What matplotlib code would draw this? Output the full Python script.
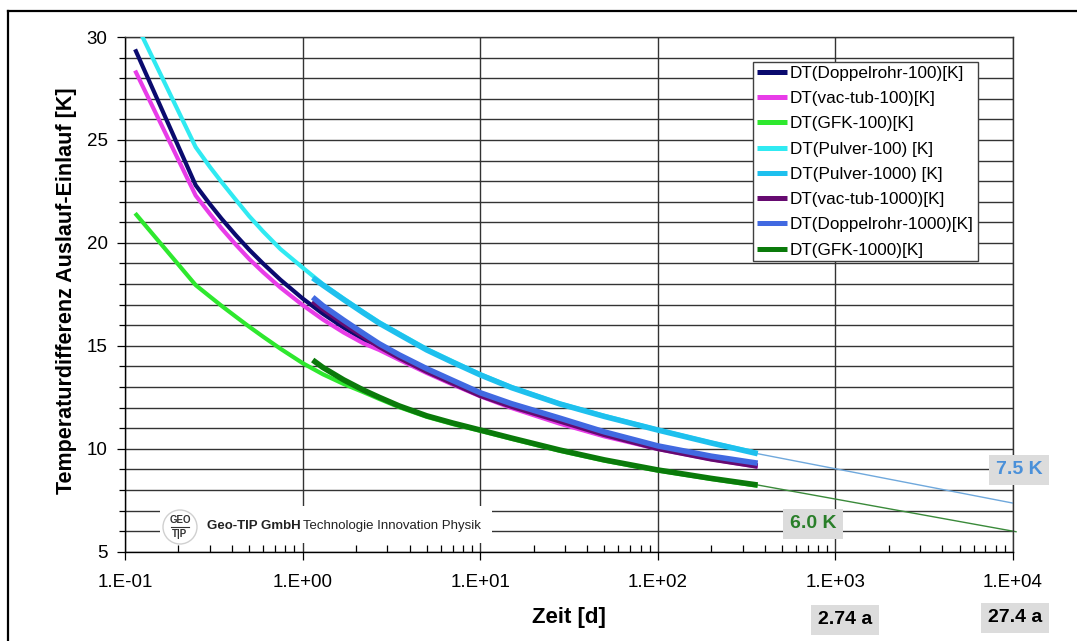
"""
Temperaturdifferenz Auslauf-Einlauf vs. Zeit (log) for several probe types.
"""

import matplotlib
matplotlib.use('Agg')
import matplotlib.pyplot as plt
from matplotlib.ticker import FixedLocator, NullFormatter
from matplotlib.patches import Rectangle, Circle
from matplotlib.lines import Line2D

plt.rcParams['font.family'] = ['Liberation Sans', 'DejaVu Sans']

# Data
T_100 = [0.114, 0.25, 0.3, 0.35, 0.42, 0.5, 0.6, 0.75, 1.0, 1.3, 1.7, 2.2, 2.7,
         3.5, 5, 7, 10, 15, 28, 50, 100, 200, 365]
T_1000 = [1.14, 1.3, 1.7, 2.2, 2.7, 3.5, 5, 7, 10, 15, 28, 50, 100, 200, 365]

doppel_100 = [29.4, 22.8, 21.89, 21.17, 20.38, 19.67, 18.99, 18.21, 17.30, 16.56, 15.89,
              15.31, 14.88, 14.37, 13.72, 13.15, 12.59, 12.03, 11.26, 10.64, 10.04, 9.54, 9.17]
vactub_100 = [28.37, 22.3, 21.42, 20.7, 19.92, 19.22, 18.57, 17.83, 16.98, 16.28, 15.65,
              15.12, 14.8, 14.32, 13.68, 13.12, 12.55, 11.98, 11.22, 10.6, 9.99, 9.49, 9.13]
gfk_100 = [21.44, 17.95, 17.40, 16.94, 16.42, 15.93, 15.44, 14.86, 14.16, 13.62, 13.15,
           12.75, 12.42, 12.02, 11.55, 11.2, 10.87, 10.48, 9.9, 9.42, 8.94, 8.53, 8.2]
pulver_100 = [30.75, 24.65, 23.7, 22.95, 22.1, 21.3, 20.55, 19.7, 18.8, 18.0, 17.3,
              16.65, 16.15, 15.6, 14.85, 14.25, 13.62, 13.0, 12.2, 11.6, 10.93, 10.3, 9.8]

pulver_1000 = [18.3, 17.95, 17.25, 16.6, 16.1, 15.55, 14.8, 14.2, 13.59, 12.97, 12.18,
               11.57, 10.91, 10.28, 9.76]
vactub_1000 = [17.18, 16.8, 16.1, 15.47, 14.98, 14.44, 13.77, 13.2, 12.6, 12.07, 11.36,
               10.7, 10.02, 9.51, 9.16]
doppel_1000 = [17.36, 16.95, 16.25, 15.6, 15.1, 14.56, 13.89, 13.32, 12.72, 12.19, 11.49,
               10.82, 10.14, 9.64, 9.30]
gfk_1000 = [14.31, 13.95, 13.35, 12.85, 12.5, 12.08, 11.6, 11.25, 10.91, 10.52, 9.94,
            9.46, 8.97, 8.56, 8.24]

# thin extrapolation lines to 10^4 days
T_EXT = [365, 1.0e4]
pulver_ext = [9.76, 7.36]
T_EXT_GFK = [365, 1.04e4]
gfk_ext = [8.24, 5.97]

X_TICKS = [0.1, 1, 10, 100, 1000, 10000]
X_TICKLABELS = ['1.E-01', '1.E+00', '1.E+01', '1.E+02', '1.E+03', '1.E+04']
Y_TICKS = [5, 10, 15, 20, 25, 30]

SERIES = [
    ('DT(Doppelrohr-100)[K]', T_100, doppel_100, '#0a0a6e', 3.0),
    ('DT(vac-tub-100)[K]', T_100, vactub_100, '#e83ce8', 3.0),
    ('DT(GFK-100)[K]', T_100, gfk_100, '#2ee82e', 3.0),
    ('DT(Pulver-100) [K]', T_100, pulver_100, '#30eaf2', 3.0),
    ('DT(Pulver-1000) [K]', T_1000, pulver_1000, '#1ec0ee', 4.0),
    ('DT(vac-tub-1000)[K]', T_1000, vactub_1000, '#660a70', 4.0),
    ('DT(Doppelrohr-1000)[K]', T_1000, doppel_1000, '#4169e1', 4.0),
    ('DT(GFK-1000)[K]', T_1000, gfk_1000, '#0a7a0a', 4.0),
]

W, H = 1077, 641
fig = plt.figure(figsize=(W / 100, H / 100), dpi=100)
fig.patch.set_facecolor('white')
ax = fig.add_axes([125 / W, 1 - 551.7 / H, (1013 - 125) / W, (551.7 - 37) / H])

# thin extrapolation lines
ax.plot(T_EXT, pulver_ext, color='#6fa8dc', linewidth=1.0, zorder=2)
ax.plot(T_EXT_GFK, gfk_ext, color='#3a8a3a', linewidth=1.0, zorder=2, clip_on=False)

for label, t, y, color, lw in SERIES:
    ax.plot(t, y, color=color, linewidth=lw, label=label, zorder=3,
            solid_capstyle='butt', solid_joinstyle='round')

ax.set_xscale('log')
ax.set_xlim(0.1, 1e4)
ax.set_ylim(5, 30)

ax.xaxis.set_major_locator(FixedLocator(X_TICKS))
ax.set_xticklabels(X_TICKLABELS)
minor_x = [m * 10.0 ** e for e in range(-1, 4) for m in range(2, 10)]
ax.xaxis.set_minor_locator(FixedLocator(minor_x))
ax.xaxis.set_minor_formatter(NullFormatter())
ax.yaxis.set_major_locator(FixedLocator(Y_TICKS))
ax.yaxis.set_minor_locator(FixedLocator(list(range(5, 31))))

ax.grid(True, which='major', axis='x', color='#333333', linewidth=1.0)
ax.grid(True, which='both', axis='y', color='#333333', linewidth=1.0)

ax.tick_params(axis='x', which='major', direction='out', length=6, width=0.9,
               labelsize=13.5, pad=10, colors='black')
ax.tick_params(axis='x', which='minor', direction='in', length=5, width=0.9)
ax.tick_params(axis='y', which='major', direction='out', length=6, width=0.9,
               labelsize=13.5, pad=6.5)
ax.tick_params(axis='y', which='minor', direction='out', length=4, width=0.9)

for side in ['left', 'bottom']:
    ax.spines[side].set_color('black')
    ax.spines[side].set_linewidth(1.0)
for side in ['top', 'right']:
    ax.spines[side].set_color('#333333')
    ax.spines[side].set_linewidth(1.0)

ax.set_xlabel('Zeit [d]', fontsize=16, fontweight='bold', va='center')
ax.xaxis.set_label_coords(0.5, (551.7 - 618) / 514.7)
ax.set_ylabel('Temperaturdifferenz Auslauf-Einlauf [K]', fontsize=15.5,
              fontweight='bold', va='center')
ax.yaxis.set_label_coords((67 - 125) / 888, (551.7 - 291) / 514.7)

leg = ax.legend(loc='upper left', bbox_to_anchor=((753 - 125) / 888, (551.7 - 62) / 514.7),
                borderaxespad=0, fontsize=12.3, handlelength=1.75, handletextpad=0.2,
                labelspacing=0.6, borderpad=0.22, fancybox=False, framealpha=1,
                edgecolor='#404040', frameon=True)
leg.get_frame().set_linewidth(1.0)
for line in leg.get_lines():
    line.set_linewidth(3.6)

# white box behind the company logo (hides grid lines)
ax.add_patch(Rectangle(((160 - 125) / 888, (551.7 - 543) / 514.7), (492 - 160) / 888,
                       (543 - 506) / 514.7, transform=ax.transAxes,
                       facecolor='white', edgecolor='none', zorder=1.6))


def fpos(px, py):
    return px / W, 1 - py / H


# logo
fig.add_artist(Circle((1.80, (H - 527) / 100), 0.17, transform=fig.dpi_scale_trans,
                      facecolor='white', edgecolor='#d0d0d0', linewidth=1.0, zorder=4))
fig.text(*fpos(180, 520), 'GEO', fontsize=7, fontweight='bold', color='#333333',
         ha='center', va='center', zorder=5)
fig.text(*fpos(180, 534), 'T|P', fontsize=7, fontweight='bold', color='#333333',
         ha='center', va='center', zorder=5)
fig.add_artist(Line2D([fpos(171, 0)[0], fpos(189, 0)[0]], [fpos(0, 527)[1]] * 2,
                      color='#333333', linewidth=0.8, zorder=5))
fig.text(*fpos(207, 526), 'Geo-TIP GmbH', fontsize=9.5, fontweight='bold',
         color='#222222', ha='left', va='center')
fig.text(*fpos(303, 526), 'Technologie Innovation Physik', fontsize=9.5,
         color='#222222', ha='left', va='center')

# value annotations
box = dict(boxstyle='square,pad=0.35', facecolor='#dcdcdc', edgecolor='none')
fig.text(*fpos(1019, 470), '7.5 K', fontsize=14, fontweight='bold', color='#4a90d9',
         ha='center', va='center', bbox=box)
fig.text(*fpos(813, 524), '6.0 K', fontsize=14, fontweight='bold', color='#2a7f2a',
         ha='center', va='center', bbox=box)
fig.text(*fpos(845, 620), '2.74 a', fontsize=14, fontweight='bold', color='black',
         ha='center', va='center', bbox=box)
fig.text(*fpos(1015, 618), '27.4 a', fontsize=14, fontweight='bold', color='black',
         ha='center', va='center', bbox=box)

# outer frame (left and top edges visible)
fig.add_artist(Line2D([8 / W, 8 / W], [0, 1 - 11 / H], color='black', linewidth=1.6))
fig.add_artist(Line2D([8 / W, 1], [1 - 11 / H, 1 - 11 / H], color='black', linewidth=1.6))

fig.savefig('out.png', dpi=100, facecolor='white')
